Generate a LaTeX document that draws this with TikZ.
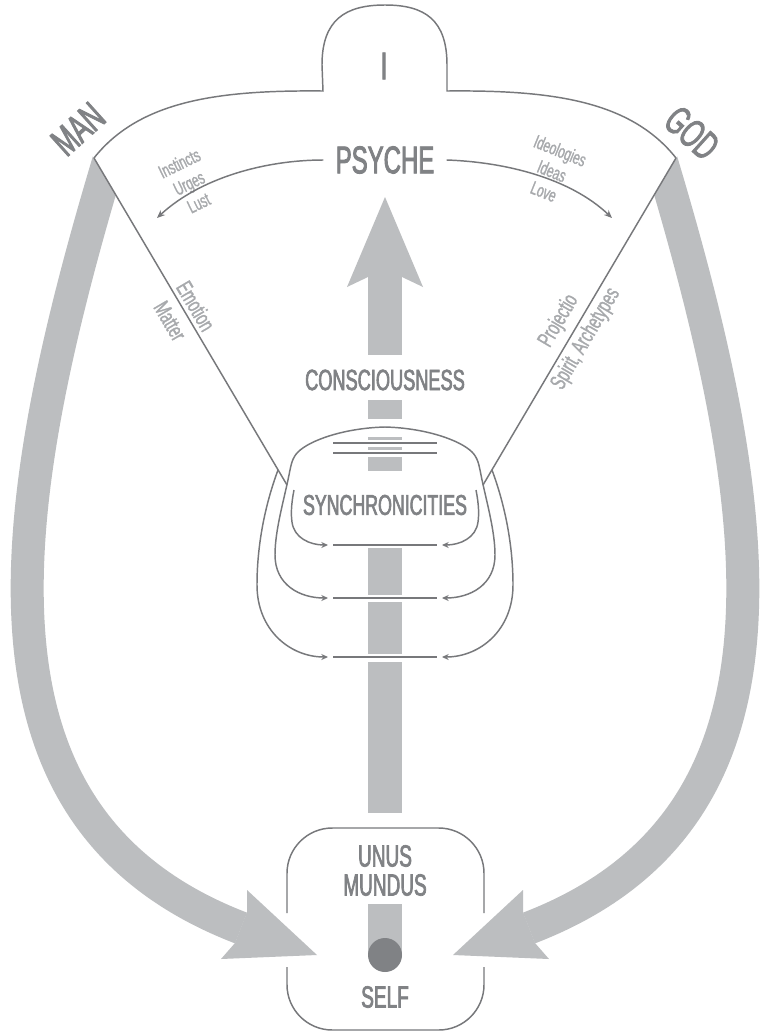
\documentclass[tikz,border=0pt]{standalone}
\usepackage{fontspec}
\setmainfont[FakeStretch=0.62,FakeBold=2.2]{Liberation Sans}
\newfontfamily\smallfont[FakeStretch=0.64,FakeBold=1.2]{Liberation Sans}
\usetikzlibrary{arrows.meta}
\definecolor{lineg}{HTML}{77787B}
\definecolor{bandg}{HTML}{BCBEC0}
\definecolor{textg}{HTML}{808285}
\definecolor{smallg}{HTML}{A7A9AC}
\newcommand{\fsz}[2]{\fontsize{#1}{#2}\selectfont}
\begin{document}
\begin{tikzpicture}[x=0.75pt,y=-0.75pt,
  outl/.style={draw=lineg,line width=1.1pt},
  lbig/.style={text=textg,font=\fsz{29}{31},inner sep=0pt},
  lmid/.style={text=textg,font=\fsz{22}{24},inner sep=0pt},
  lsmall/.style={text=smallg,font=\smallfont\fsz{14}{16.5},inner sep=0pt,align=center},
  ldiag/.style={text=smallg,font=\smallfont\fsz{17}{19},inner sep=0pt},
  syncarrow/.style={draw=lineg,line width=1.1pt,-{Stealth[length=5pt,width=4.5pt]}},
  psyarrow/.style={draw=lineg,line width=1.1pt,-{Stealth[length=6pt,width=5pt]}},
  band/.style={draw=bandg,line width=24.75pt},
  shaft/.style={fill=bandg}]
\useasboundingbox (0,0) rectangle (761,1032);
\fill[white] (0,0) rectangle (761,1032);

% named coordinates
\coordinate (cman) at (94,158);
\coordinate (cgod) at (676,158);
\coordinate (fl) at (287,485);
\coordinate (fr) at (483,485);
\coordinate (lt) at (157,218);
\coordinate (rt) at (612,218);

% big curved band arrows
\begin{scope}
  \clip (-22,-38) -- (673,1139) -- (-60,1139) -- (-60,-38) -- cycle;
  \draw[band] (112,150) .. controls (0,520) and (-40,820) .. (241,928);
\end{scope}
\begin{scope}
  \clip (792,-38) -- (97,1139) -- (830,1139) -- (830,-38) -- cycle;
  \draw[band] (658,150) .. controls (770,520) and (810,820) .. (529,928);
\end{scope}
\fill[bandg] (247,912) -- (247,890) -- (317,955) -- (221,959) -- (235,943) -- cycle;
\fill[bandg] (523,912) -- (523,890) -- (453,955) -- (549,959) -- (535,943) -- cycle;

% central arrow
\fill[bandg] (385,197) -- (423,287) -- (402,277) -- (368,277) -- (347,287) -- cycle;
\fill[shaft] (368,276) rectangle (402,355);
\fill[shaft] (368,400) rectangle (402,419);
\fill[shaft] (368,437) rectangle (402,439.5);
\fill[shaft] (368,447) rectangle (402,449.5);
\fill[shaft] (368,457) rectangle (402,471);
\fill[shaft] (368,548) rectangle (402,595);
\fill[shaft] (368,602) rectangle (402,654);
\fill[shaft] (368,662) rectangle (402,813);
\fill[shaft] (368,904) rectangle (402,955);

% head and shoulders
\draw[outl] (cman) .. controls (140,100) and (220,90) .. (323,91) -- (322,65)
  .. controls (322,20) and (345,5) .. (385,5) .. controls (425,5) and (447,20) .. (447,65)
  -- (447,91) .. controls (550,90) and (630,100) .. (cgod);
\draw[outl] (cman) -- (fl);
\draw[outl] (cgod) -- (fr);

% synchronicities loops
\draw[outl,{Stealth[length=5pt,width=4.5pt]}-{Stealth[length=5pt,width=4.5pt]}]
  (328,598) .. controls (300,598) and (275,585) .. (275,555)
  .. controls (275,530) and (284,500) .. (289,475)
  .. controls (291,465) and (292,458) .. (298,452)
  .. controls (310,440) and (345,428) .. (385,427)
  .. controls (425,428) and (460,440) .. (472,452)
  .. controls (478,458) and (479,465) .. (481,475)
  .. controls (486,500) and (495,530) .. (495,555)
  .. controls (495,585) and (470,598) .. (442,598);
\draw[syncarrow] (278,470) .. controls (265,505) and (257,545) .. (257,585)
  .. controls (257,630) and (290,657) .. (328,657);
\draw[syncarrow] (492,470) .. controls (505,505) and (513,545) .. (513,585)
  .. controls (513,630) and (480,657) .. (442,657);
\draw[syncarrow] (294,490) .. controls (291,505) and (291,515) .. (292,522)
  .. controls (294,538) and (310,545) .. (328,545);
\draw[syncarrow] (476,490) .. controls (479,505) and (479,515) .. (478,522)
  .. controls (476,538) and (460,545) .. (442,545);
\foreach \yy in {443,453,545,598,657} \draw[outl] (333,\yy) -- (437,\yy);

% unus mundus box
\draw[outl,rounded corners=34pt] (287,913) -- (287,828) -- (484,828) -- (484,913);
\draw[outl,rounded corners=34pt] (484,967) -- (484,1030) -- (287,1030) -- (287,967);
\fill[textg] (385,955) circle[radius=17];

% labels
\node[lbig] (ilabel) at (384,66) {I};
\node[lbig,inner xsep=9pt] (psyche) at (385,160) {PSYCHE};
\node[lbig,font=\fsz{30}{32},rotate=42] (man) at (78,129) {MAN};
\node[lbig,font=\fsz{30}{32},rotate=-42] (god) at (692,133) {GOD};
\node[lmid] (cons) at (385,380) {CONSCIOUSNESS};
\node[lmid,font=\fsz{21.5}{23}] (sync) at (385,505) {SYNCHRONICITIES};
\node[lmid,font=\fsz{23}{25}] (unus) at (385,856) {UNUS};
\node[lmid,font=\fsz{23}{25}] (mundus) at (385,885) {MUNDUS};
\node[lmid,font=\fsz{23}{25}] (self) at (385,997) {SELF};

\node[lsmall,rotate=26] (lefttxt) at (189,183) {Instincts\\Urges\\Lust};
\node[lsmall,rotate=-22] (righttxt) at (552,171) {Ideologies\\Ideas\\Love};
\node[ldiag,rotate=-59.5] (emo) at (196,306) {Emotion};
\node[ldiag,rotate=-59.5] (mat) at (170,321) {Matter};
\node[ldiag,rotate=59.5] (proj) at (559,321) {Projectio};
\node[ldiag,rotate=59.5] (spirit) at (586,339) {Spirit, Archetypes};

\draw[psyarrow] (psyche.west) .. controls (265,160) and (200,178) .. (lt);
\draw[psyarrow] (psyche.east) .. controls (505,162) and (570,178) .. (rt);
\end{tikzpicture}
\end{document}
